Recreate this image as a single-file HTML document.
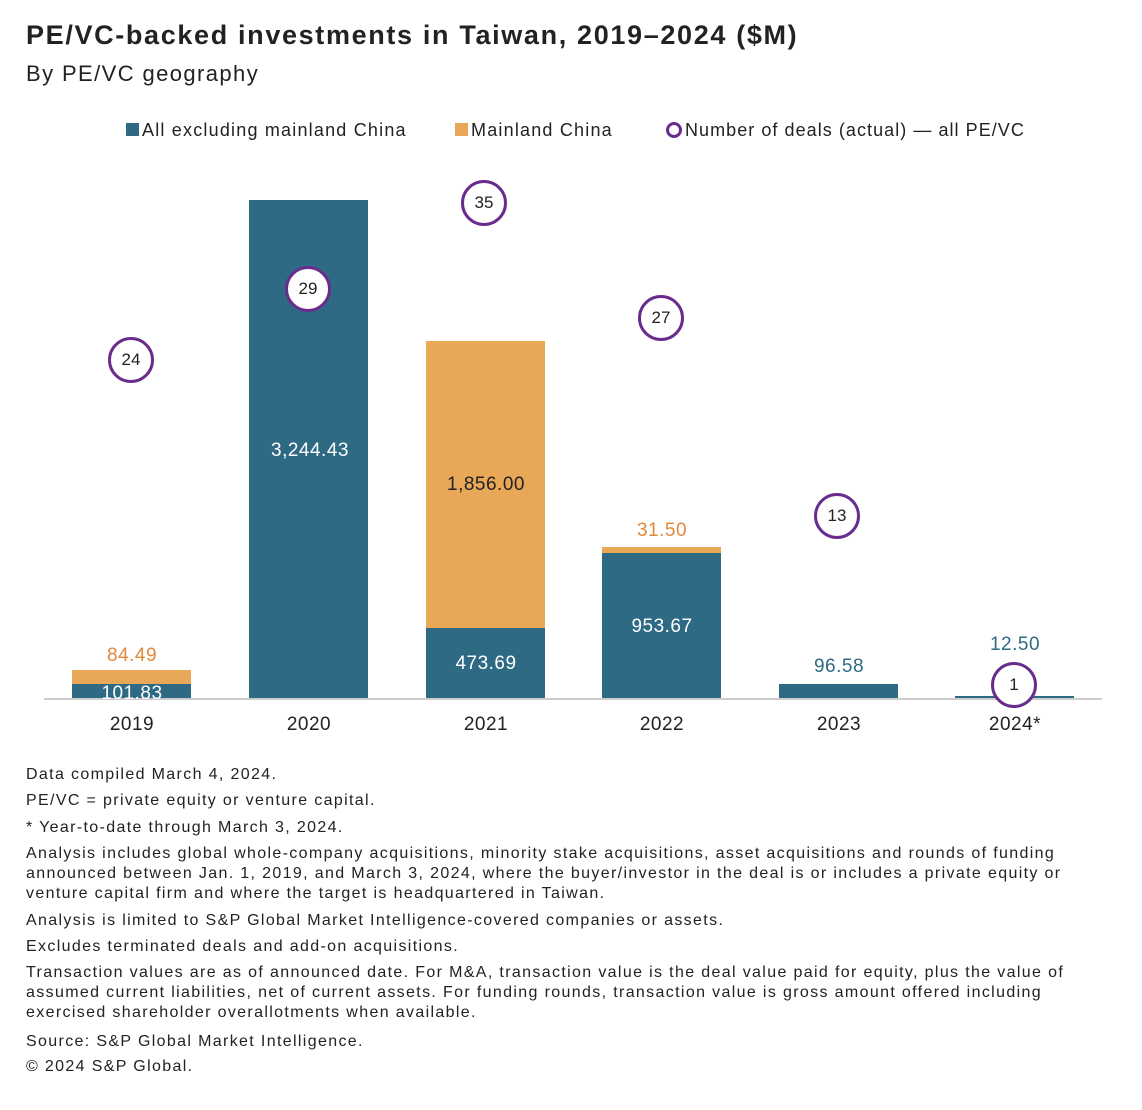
<!DOCTYPE html>
<html><head><style>
body{margin:0;width:1142px;height:1110px;background:#fff;font-family:"Liberation Sans",sans-serif;color:#222;position:relative;overflow:hidden}
.a{position:absolute;white-space:nowrap}
.bar{position:absolute}
.b{background:#2e6a84}.o{background:#e8a857}
.lbl{position:absolute;font-size:19px;text-align:center;width:120px;letter-spacing:0.5px}
.c{position:absolute;width:40px;height:40px;border:3px solid #6a2c8c;border-radius:50%;background:#fff;font-size:17px;text-align:center;line-height:40px;color:#222}
.yr{position:absolute;top:714px;font-size:19px;width:120px;text-align:center;letter-spacing:0.5px}
.fn{position:absolute;left:26px;font-size:16px;line-height:20px;color:#222;letter-spacing:1.35px;white-space:nowrap}
</style></head><body>
<div class="a" style="left:26px;top:20px;font-size:27px;font-weight:bold;letter-spacing:1.65px">PE/VC-backed investments in Taiwan, 2019–2024 ($M)</div>
<div class="a" style="left:26px;top:61px;font-size:22px;letter-spacing:1.4px">By PE/VC geography</div>
<div class="a" style="left:126px;top:120px;font-size:18px;letter-spacing:1.2px"><span style="display:inline-block;width:13px;height:13px;background:#2e6a84;margin-right:3px"></span>All excluding mainland China</div>
<div class="a" style="left:455px;top:120px;font-size:18px;letter-spacing:1.2px"><span style="display:inline-block;width:13px;height:13px;background:#e8a857;margin-right:3px"></span>Mainland China</div>
<div class="a" style="left:666px;top:120px;font-size:18px;letter-spacing:1.05px"><span style="display:inline-block;width:10px;height:10px;border:3px solid #6a2c8c;border-radius:50%;margin-right:3px;vertical-align:-2px"></span>Number of deals (actual) — all PE/VC</div>

<div class="bar o" style="left:72px;top:670px;width:119px;height:14px"></div>
<div class="bar b" style="left:72px;top:684px;width:119px;height:15px"></div>
<div class="bar b" style="left:249px;top:200px;width:119px;height:499px"></div>
<div class="bar o" style="left:426px;top:341px;width:119px;height:287px"></div>
<div class="bar b" style="left:426px;top:628px;width:119px;height:71px"></div>
<div class="bar o" style="left:602px;top:547px;width:119px;height:6px"></div>
<div class="bar b" style="left:602px;top:553px;width:119px;height:146px"></div>
<div class="bar b" style="left:779px;top:684px;width:119px;height:15px"></div>
<div class="bar b" style="left:955px;top:696px;width:119px;height:3px"></div>
<div class="a" style="left:44px;top:698px;width:1058px;height:2px;background:#ccc"></div>

<div class="lbl" style="left:72px;top:645px;color:#e0893a">84.49</div>
<div class="lbl" style="left:72px;top:683px;color:#fff">101.83</div>
<div class="lbl" style="left:250px;top:440px;color:#fff">3,244.43</div>
<div class="lbl" style="left:426px;top:474px;color:#222">1,856.00</div>
<div class="lbl" style="left:426px;top:653px;color:#fff">473.69</div>
<div class="lbl" style="left:602px;top:520px;color:#e0893a">31.50</div>
<div class="lbl" style="left:602px;top:616px;color:#fff">953.67</div>
<div class="lbl" style="left:779px;top:656px;color:#2e6a84">96.58</div>
<div class="lbl" style="left:955px;top:634px;color:#2e6a84">12.50</div>

<div class="c" style="left:108px;top:337px">24</div>
<div class="c" style="left:285px;top:266px">29</div>
<div class="c" style="left:461px;top:180px">35</div>
<div class="c" style="left:638px;top:295px">27</div>
<div class="c" style="left:814px;top:493px">13</div>
<div class="c" style="left:991px;top:662px">1</div>

<div class="yr" style="left:72px">2019</div>
<div class="yr" style="left:249px">2020</div>
<div class="yr" style="left:426px">2021</div>
<div class="yr" style="left:602px">2022</div>
<div class="yr" style="left:779px">2023</div>
<div class="yr" style="left:955px">2024*</div>

<div class="fn" style="top:765px">Data compiled March 4, 2024.</div>
<div class="fn" style="top:791px">PE/VC = private equity or venture capital.</div>
<div class="fn" style="top:818px">* Year-to-date through March 3, 2024.</div>
<div class="fn" style="top:844px">Analysis includes global whole-company acquisitions, minority stake acquisitions, asset acquisitions and rounds of funding<br>announced between Jan. 1, 2019, and March 3, 2024, where the buyer/investor in the deal is or includes a private equity or<br>venture capital firm and where the target is headquartered in Taiwan.</div>
<div class="fn" style="top:911px">Analysis is limited to S&amp;P Global Market Intelligence-covered companies or assets.</div>
<div class="fn" style="top:937px">Excludes terminated deals and add-on acquisitions.</div>
<div class="fn" style="top:963px">Transaction values are as of announced date. For M&amp;A, transaction value is the deal value paid for equity, plus the value of<br>assumed current liabilities, net of current assets. For funding rounds, transaction value is gross amount offered including<br>exercised shareholder overallotments when available.</div>
<div class="fn" style="top:1032px">Source: S&amp;P Global Market Intelligence.</div>
<div class="fn" style="top:1057px">© 2024 S&amp;P Global.</div>
</body></html>
